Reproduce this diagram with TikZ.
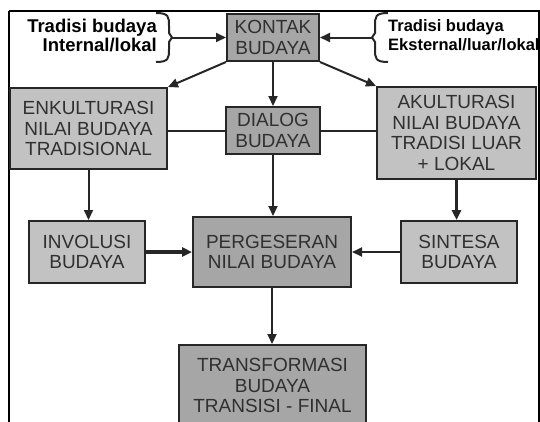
\documentclass[tikz,border=0pt]{standalone}
\usepackage{fontspec}
\setmainfont{Liberation Sans}
\usepackage{tikz}
\usetikzlibrary{positioning,calc,arrows.meta}
\definecolor{boxdark}{HTML}{A6A6A6}
\definecolor{boxlight}{HTML}{C2C2C2}
\definecolor{inkgray}{HTML}{262626}
\definecolor{txtgray}{HTML}{303030}
\tikzset{
	>={Triangle[length=10pt,width=9pt]},
	dedge/.style={arrows=->, inkgray, line width=2pt},
	tedge/.style={arrows=->, inkgray, line width=3.2pt},
	link/.style={inkgray, line width=2pt},
}
\tikzstyle{brect} = [rectangle, draw=inkgray, line width=2pt, inner sep=0pt, align=center, text=txtgray, font=\fontsize{19}{20.5}\selectfont]
\tikzstyle{darkbox} = [brect, fill=boxdark]
\tikzstyle{lightbox} = [brect, fill=boxlight]
\tikzstyle{tradisi} = [inner sep=0pt, text=black, font=\bfseries\fontsize{18.5}{19}\selectfont]

\begin{document}
\begin{tikzpicture}[x=1pt,y=-1pt]
	\useasboundingbox (0,0) rectangle (540,421);
	\clip (0,0) rectangle (540,421);
	% frame
	\draw[line width=2pt] (9,430) -- (9,11);
	\draw[line width=1.3pt] (9,11) -- (539,11) -- (539,430);
	
	\node[darkbox, minimum width=92, minimum height=47] (kontak) at (273,37.5) {KONTAK\\BUDAYA};
	\node[tradisi, anchor=east, align=right] (intern) at (157,35) {Tradisi budaya\\Internal/lokal};
	\node[tradisi, anchor=west, align=left, font=\bfseries\fontsize{16.5}{19}\selectfont] (extern) at (388,35) {Tradisi budaya\\Eksternal/luar/lokal};
	
	% braces
	\draw[link] (156,13) .. controls (169,13) and (169,17) .. (169,26) -- (169,33) -- (172,37.5) -- (169,42) -- (169,49) .. controls (169,58) and (169,62) .. (156,62);
	\draw[link] (388,13) .. controls (375,13) and (375,17) .. (375,26) -- (375,33) -- (372,37.5) -- (375,42) -- (375,49) .. controls (375,58) and (375,62) .. (388,62);
	\coordinate (lb) at (172,37.5);
	\coordinate (rb) at (372,37.5);
	\path (lb) edge [dedge] (kontak);
	\path (rb) edge [dedge] (kontak);
	
	\node[lightbox, minimum width=157, minimum height=81] (enk) at (88.5,128.5) {ENKULTURASI\\NILAI BUDAYA\\TRADISIONAL};
	\node[darkbox, minimum width=94, minimum height=47] (dialog) at (273,130.5) {DIALOG\\BUDAYA};
	\node[lightbox, minimum width=159, minimum height=92] (akul) at (456.5,133) {AKULTURASI\\NILAI BUDAYA\\TRADISI LUAR\\+ LOKAL};
	
	\path (kontak.south west) edge [dedge] (enk.north east);
	\path (kontak.south) edge [dedge] (dialog.north);
	\path (kontak.south east) edge [dedge] (akul.north west);
	\path (enk.east |- dialog) edge [link] (dialog.west);
	\path (dialog.east) edge [link] (dialog.east -| akul.west);
	
	\node[lightbox, minimum width=116, minimum height=62] (invol) at (87,252) {INVOLUSI\\BUDAYA};
	\node[darkbox, minimum width=158, minimum height=70] (perg) at (272,252) {PERGESERAN\\NILAI BUDAYA};
	\node[lightbox, minimum width=116, minimum height=62] (sint) at (459,252) {SINTESA\\BUDAYA};
	
	\path (enk.south) edge [dedge] (enk.south |- invol.north);
	\path (dialog.south) edge [dedge] (dialog.south |- perg.north);
	\path (akul.south) edge [tedge] (akul.south |- sint.north);
	\path (invol) edge [tedge] (perg);
	\path (sint) edge [dedge] (perg);
	
	\node[darkbox, minimum width=187, minimum height=81] (trans) at (272.5,385.5) {TRANSFORMASI\\BUDAYA\\TRANSISI - FINAL};
	\path (perg.south) edge [dedge] (perg.south |- trans.north);
\end{tikzpicture}
\end{document}
